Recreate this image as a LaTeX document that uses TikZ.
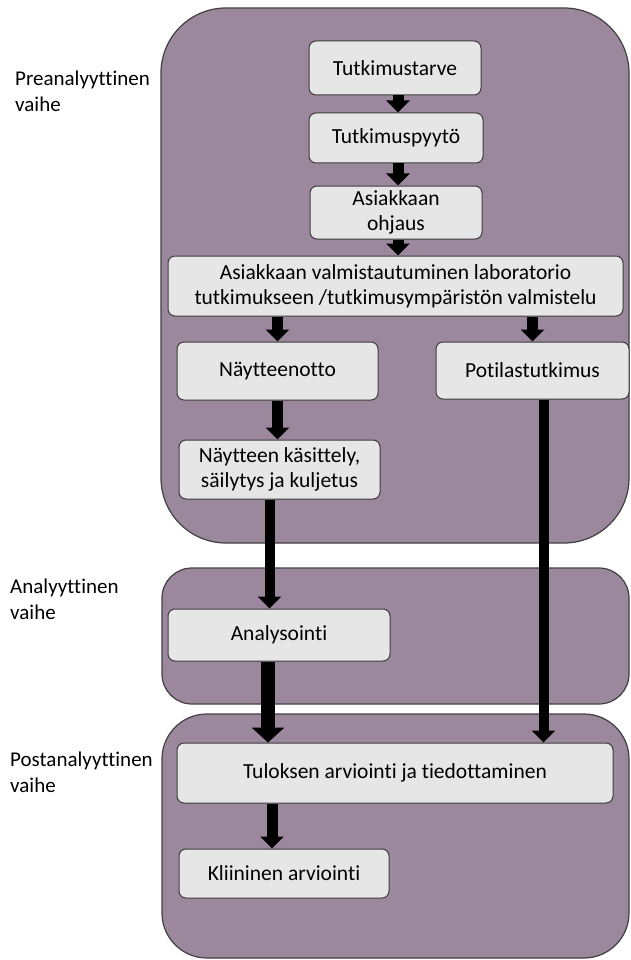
\documentclass[tikz,border=0pt]{standalone}
\usepackage{fontspec}
\setmainfont{Carlito}[Ligatures=NoCommon]
\usetikzlibrary{positioning,arrows.meta}
\definecolor{phasefill}{RGB}{155,136,157}
\definecolor{phaseline}{RGB}{64,64,64}
\definecolor{boxfill}{RGB}{230,230,230}
\definecolor{boxline}{RGB}{60,60,60}
\tikzset{phase/.style = {draw=phaseline,fill=phasefill,line width=1.2pt},
         box/.style = {draw=boxline,fill=boxfill,rounded corners=7pt,line width=1pt,
                       align=center,inner sep=0pt,font=\fontsize{21.5}{25}\selectfont},
         phaselabel/.style = {align=left,inner sep=0pt,anchor=north west,
                              font=\fontsize{21}{26}\selectfont},
         flow/.style = {line width=11pt,-{Triangle[width=23pt,length=12pt]}}}

\begin{document}
\begin{tikzpicture}[x=1pt,y=-1pt]
    \useasboundingbox (0,0) rectangle (630,960);
    % vaiheet
    \draw[phase,rounded corners=65pt] (161,8) rectangle (629,543);
    \draw[phase,rounded corners=30pt] (162,568) rectangle (629,704);
    \draw[phase,rounded corners=45pt] (162,714) rectangle (629,958);
    \node[phaselabel] (prelab)  at (15,71)  {Preanalyyttinen\\vaihe};
    \node[phaselabel] (analab)  at (10,579) {Analyyttinen\\vaihe};
    \node[phaselabel] (postlab) at (10,752) {Postanalyyttinen\\vaihe};
    % laatikot
    \node[box,minimum width=172pt,minimum height=54pt] (tarve)  at (395,68)    {Tutkimustarve};
    \node[box,minimum width=174pt,minimum height=50pt] (pyynto) at (396,138)   {Tutkimuspyytö};
    \node[box,minimum width=172pt,minimum height=53pt] (ohjaus) at (396,212.5) {Asiakkaan\\ohjaus};
    \node[box,minimum width=455pt,minimum height=60pt] (valm)   at (395.5,286) {Asiakkaan valmistautuminen laboratorio\\tutkimukseen /tutkimusympäristön valmistelu};
    \node[box,minimum width=201pt,minimum height=58pt] (notto)  at (277.5,371) {Näytteenotto};
    \node[box,minimum width=193pt,minimum height=57pt] (potilas) at (532.5,370.5) {Potilastutkimus};
    \node[box,minimum width=201pt,minimum height=59pt] (kasittely) at (279.5,469.5) {Näytteen käsittely,\\säilytys ja kuljetus};
    \node[box,minimum width=222pt,minimum height=52pt] (analyysi) at (279,635)  {Analysointi};
    \node[box,minimum width=436pt,minimum height=60pt] (tulos)  at (395,773)   {Tuloksen arviointi ja tiedottaminen};
    \node[box,minimum width=210pt,minimum height=49pt] (klin)   at (284,873.5) {Kliininen arviointi};
    % nuolet
    \draw[flow] ([xshift=3pt]tarve.south) -- ([xshift=3pt]tarve.south |- pyynto.north);
    \draw[flow] ([xshift=2pt]pyynto.south) -- ([xshift=2pt]pyynto.south |- ohjaus.north);
    \draw[flow] ([xshift=2pt]ohjaus.south) -- ([xshift=2pt]ohjaus.south |- valm.north);
    \draw[flow] (notto.north |- valm.south) -- (notto.north);
    \draw[flow] (potilas.north |- valm.south) -- (potilas.north);
    \draw[flow] (notto.south) -- (notto.south |- kasittely.north);
    \draw[flow,line width=10pt] ([xshift=-10pt]kasittely.south) -- ([xshift=-10pt]kasittely.south |- analyysi.north);
    \draw[flow,line width=10pt] ([xshift=11pt]potilas.south) -- ([xshift=11pt]potilas.south |- tulos.north);
    \draw[line width=14pt,-{Triangle[width=32pt,length=15pt]}] ([xshift=-11pt]analyysi.south) -- ([xshift=-11pt]analyysi.south |- tulos.north);
    \draw[flow] ([xshift=-12pt]klin.north |- tulos.south) -- ([xshift=-12pt]klin.north);
\end{tikzpicture}
\end{document}
